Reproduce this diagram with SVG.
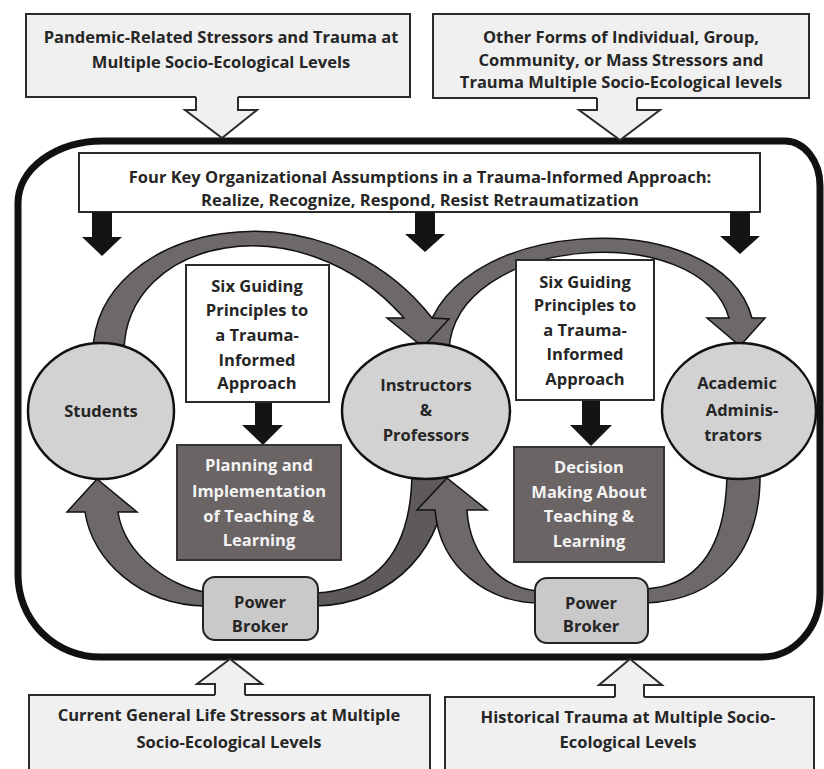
<svg xmlns="http://www.w3.org/2000/svg" width="824" height="769" viewBox="0 0 824 769">
<defs>
<style>
.t{font-family:"Open Sans",Lato,"Liberation Sans",sans-serif;font-weight:700;font-size:16.5px;fill:#262626;text-anchor:middle}
.w{fill:#f3f3f3}
.lbox{fill:#f0f0f0;stroke:#2b2b2b;stroke-width:2}
.hf{fill:#f0f0f0;stroke:none}
.hl{fill:none;stroke:#2b2b2b;stroke-width:2;stroke-linejoin:miter}
.wbox{fill:#ffffff;stroke:#2b2b2b;stroke-width:2}
.circ{fill:#d2d2d2;stroke:#111;stroke-width:2.5}
.band{fill:#6d6869;stroke:#111;stroke-width:1.5;stroke-linejoin:miter}
.band2{fill:#5e595a;stroke:#111;stroke-width:1.5}
.dark{fill:#6a6465;stroke:#333;stroke-width:2}
.pb{fill:#c9c9c9;stroke:#222;stroke-width:2}
.blk{fill:#141414}
</style>
</defs>
<rect width="824" height="769" fill="#ffffff"/>

<g id="frame">
<path d="M103 141 H785 A35 45 0 0 1 820 186 V593 A58 64 0 0 1 762 657 H100 A82 82 0 0 1 18 575 V203 A85 62 0 0 1 103 141 Z" fill="none" stroke="#111" stroke-width="7"/>
</g>

<g id="pandemic">
<rect class="lbox" x="26" y="14" width="384" height="83"/>
<text class="t" x="221" y="43">Pandemic-Related Stressors and Trauma at</text>
<text class="t" x="221" y="68">Multiple Socio-Ecological Levels</text>
</g>
<g id="other-forms">
<rect class="lbox" x="433" y="14" width="376" height="84"/>
<text class="t" x="621" y="43">Other Forms of Individual, Group,</text>
<text class="t" x="621" y="66">Community, or Mass Stressors and</text>
<text class="t" x="621" y="88">Trauma Multiple Socio-Ecological levels</text>
</g>
<g id="current-general">
<rect class="lbox" x="29" y="695" width="401" height="90"/>
<text class="t" x="229" y="721">Current General Life Stressors at Multiple</text>
<text class="t" x="229" y="748">Socio-Ecological Levels</text>
</g>
<g id="historical">
<rect class="lbox" x="445" y="697" width="369" height="90"/>
<text class="t" x="628" y="723">Historical Trauma at Multiple Socio-</text>
<text class="t" x="628" y="748">Ecological Levels</text>
</g>

<g id="assumptions">
<rect class="wbox" x="79" y="153" width="681" height="59"/>
<text class="t" x="420" y="183">Four Key Organizational Assumptions in a Trauma-Informed Approach:</text>
<text class="t" x="420" y="206">Realize, Recognize, Respond, Resist Retraumatization</text>
</g>

<g id="connectors">
<path class="hf" d="M196 95 V110 H185 L222 138 L257 110 H238 V95 Z"/>
<path class="hl" d="M196 97 V110 H185 L222 138 L257 110 H238 V97"/>
<path class="hf" d="M597 96 V110 H579 L620 140 L660 110 H637 V96 Z"/>
<path class="hl" d="M597 98 V110 H579 L620 140 L660 110 H637 V98"/>
<path class="hf" d="M215 697 V684 H197 L230 659 L262 684 H245 V697 Z"/>
<path class="hl" d="M215 695 V684 H197 L230 659 L262 684 H245 V695"/>
<path class="hf" d="M615 699 V685 H599 L630 659 L662 685 H644 V699 Z"/>
<path class="hl" d="M615 697 V685 H599 L630 659 L662 685 H644 V697"/>

<polygon class="blk" points="92,212 112,212 112,237 122,237 102,256 82,237 92,237"/>
<polygon class="blk" points="415,212 435,212 435,234 445,234 425,252 405,234 415,234"/>
<polygon class="blk" points="730,212 750,212 750,236 760,236 740,254 720,236 730,236"/>
<polygon class="blk" points="255,402 272,402 272,425 283,425 263,445 242,425 255,425"/>
<polygon class="blk" points="582,400 600,400 600,425 612,425 591,446 570,425 582,425"/>

<path class="band" d="M424 350 C435 215 720 200 752 318 L765 318 L740 346 L707 318 L729 318 C700 218 455 235 449 350 Z"/>
<path class="band" d="M93 352 C95 225 320 175 432 318 L449 319 L423 347 L387 318 L404 318 C300 200 125 238 124 352 Z"/>
<path class="band2" d="M412 470 C412 555 375 590 316 593 L316 606 C395 604 447 545 447 470 Z"/>
<path class="band" d="M537 603 C490 602 440 570 435 510 L417 510 L447 478 L487 510 L467 510 C470 560 505 588 537 591 Z"/>
<path class="band" d="M205 606 C140 605 92 560 85 512 L67 512 L97 479 L137 512 L118 512 C125 558 175 588 205 592 Z"/>
<path class="band" d="M727 470 C727 545 700 585 646 589 L646 603 C720 600 762 550 760 470 Z"/>
</g>

<g id="students">
<ellipse class="circ" cx="101" cy="411" rx="73" ry="68"/>
<text class="t" x="101" y="417">Students</text>
</g>
<g id="instructors">
<ellipse class="circ" cx="426" cy="411" rx="84" ry="68"/>
<text class="t" x="426" y="391">Instructors</text>
<text class="t" x="426" y="416">&amp;</text>
<text class="t" x="426" y="441">Professors</text>
</g>
<g id="administrators">
<ellipse class="circ" cx="739" cy="411" rx="77" ry="68"/>
<text class="t" x="737" y="389">Academic</text>
<text class="t" x="742" y="416">Adminis-</text>
<text class="t" x="733" y="441">trators</text>
</g>

<g id="principles-left">
<rect class="wbox" x="186" y="265" width="143" height="137"/>
<text class="t" x="257" y="292">Six Guiding</text>
<text class="t" x="257" y="316">Principles to</text>
<text class="t" x="257" y="341">a Trauma-</text>
<text class="t" x="257" y="366">Informed</text>
<text class="t" x="257" y="389">Approach</text>
</g>
<g id="principles-right">
<rect class="wbox" x="516" y="260" width="138" height="140"/>
<text class="t" x="585" y="288">Six Guiding</text>
<text class="t" x="585" y="311">Principles to</text>
<text class="t" x="585" y="336">a Trauma-</text>
<text class="t" x="585" y="360">Informed</text>
<text class="t" x="585" y="385">Approach</text>
</g>

<g id="planning">
<rect class="dark" x="177" y="445" width="164" height="115"/>
<text class="t w" x="259" y="471">Planning and</text>
<text class="t w" x="259" y="497">Implementation</text>
<text class="t w" x="259" y="522">of Teaching &amp;</text>
<text class="t w" x="259" y="546">Learning</text>
</g>
<g id="decision">
<rect class="dark" x="514" y="447" width="150" height="115"/>
<text class="t w" x="589" y="473">Decision</text>
<text class="t w" x="589" y="498">Making About</text>
<text class="t w" x="589" y="522">Teaching &amp;</text>
<text class="t w" x="589" y="547">Learning</text>
</g>

<g id="power-broker-left">
<rect class="pb" x="203" y="577" width="115" height="63" rx="12"/>
<text class="t" x="260" y="608">Power</text>
<text class="t" x="260" y="632">Broker</text>
</g>
<g id="power-broker-right">
<rect class="pb" x="535" y="578" width="113" height="65" rx="12"/>
<text class="t" x="591" y="609">Power</text>
<text class="t" x="591" y="632">Broker</text>
</g>
</svg>
